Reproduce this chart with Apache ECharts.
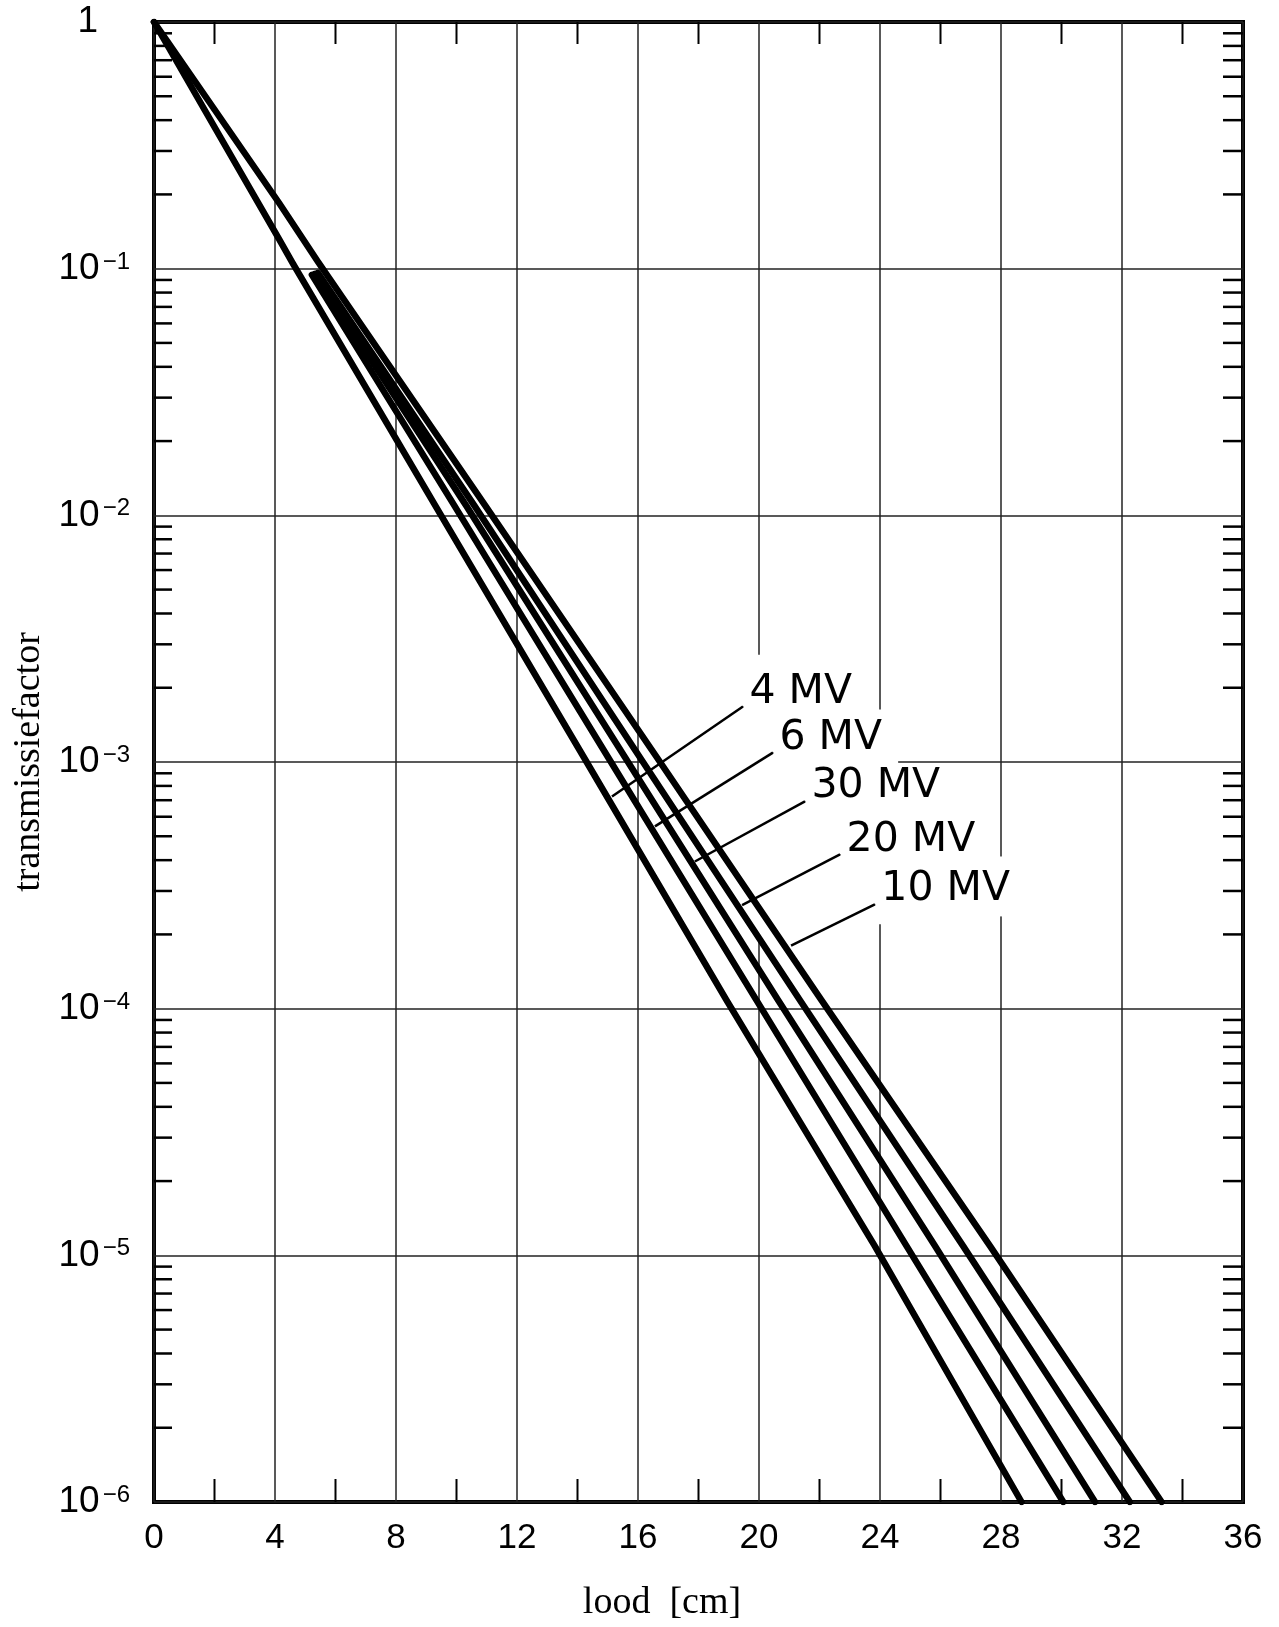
<!DOCTYPE html>
<html><head><meta charset="utf-8">
<script src="https://cdn.jsdelivr.net/npm/echarts@6/dist/echarts.min.js"></script>
<style>html,body{margin:0;padding:0;background:#fff}#c{width:1279px;height:1627px}</style>
</head><body><div id="c"></div>
<script>
// ---- data ----
const xTicks = [0, 4, 8, 12, 16, 20, 24, 28, 32, 36];
const yTicks = [1, 1e-1, 1e-2, 1e-3, 1e-4, 1e-5, 1e-6];
const xMinorTicks = [2, 6, 10, 14, 18, 22, 26, 30, 34];
const yMinorFactors = [2, 3, 4, 5, 6, 7, 8, 9];

const names = ['4 MV', '6 MV', '30 MV', '20 MV', '10 MV'];
const mv4  = [[0, 1], [4.13, 0.132], [4.56, 0.1066], [9.29, 0.011], [14.20, 1.05e-3], [18.93, 1.08e-4], [23.83, 1.09e-5], [28.68, 1e-6]];
const mv6  = [[5.22, 0.0944], [9.92, 0.011], [15.00, 1.05e-3], [19.92, 1.08e-4], [24.88, 1.09e-5], [30.06, 1e-6]];
const mv30 = [[5.32, 0.0953], [10.31, 0.011], [15.56, 1.05e-3], [20.64, 1.08e-4], [25.82, 1.09e-5], [31.11, 1e-6]];
const mv20 = [[5.42, 0.0962], [10.58, 0.011], [16.05, 1.05e-3], [21.36, 1.08e-4], [26.75, 1.09e-5], [32.26, 1e-6]];
const mv10 = [[0, 1], [4.13, 0.185], [5.42, 0.1066], [10.94, 0.011], [16.61, 1.05e-3], [22.07, 1.08e-4], [27.64, 1.09e-5], [33.31, 1e-6]];

// leader lines: [point on curve, outer end where the label sits]
const leader4  = [[15.14, 7.25e-4], [19.47, 1.68e-3]];
const leader6  = [[16.56, 5.48e-4], [20.46, 1.092e-3]];
const leader30 = [[17.88, 3.95e-4], [21.52, 6.93e-4]];
const leader20 = [[19.44, 2.63e-4], [22.68, 4.22e-4]];
const leader10 = [[21.06, 1.80e-4], [23.83, 2.65e-4]];

// ---- chart ----
const curves = [mv4, mv6, mv30, mv20, mv10];
const leaders = [leader4, leader6, leader30, leader20, leader10];
const yMinorTicks = [];
for (let k = -6; k <= -1; k++) yMinorFactors.forEach(m => yMinorTicks.push(m * Math.pow(10, k)));

function yLabel(v) {
  const e = Math.round(Math.log10(v));
  if (e === 0) return '{one|1}';
  return '{b|10}{s|\u2212' + (-e) + '}';
}

const chart = echarts.init(document.getElementById('c'), null, {renderer: 'canvas'});
const series = [];
curves.forEach((d, i) => series.push({
  type: 'line', name: names[i], data: d, symbol: 'none', z: 3,
  lineStyle: {color: '#000', width: 6.5, cap: 'round', join: 'round'}
}));
leaders.forEach((d, i) => series.push({
  type: 'line', name: 'leader ' + names[i], data: d, symbol: 'none', z: 4,
  lineStyle: {color: '#000', width: 2.5}
}));
series.push({
  type: 'scatter', name: 'labels', z: 5, symbolSize: 1,
  itemStyle: {color: '#000', opacity: 1},
  data: leaders.map((d, i) => ({value: d[1], name: names[i]})),
  label: {show: true, formatter: '{b}', position: [5, -14], align: 'left', verticalAlign: 'middle', opacity: 1,
    fontFamily: 'DejaVu Sans', fontSize: 41, color: '#000', backgroundColor: '#fff', padding: [2, 8, 2, 2]}
});
series.push({
  type: 'line', name: 'mask', data: [[0, 1]], symbol: 'none', lineStyle: {width: 0}, silent: true,
  markArea: {silent: true, itemStyle: {color: '#fff'}, label: {show: false}, data: [
    [{coord: [16.1, Math.pow(10, -2.93)]}, {coord: [24.6, Math.pow(10, -3.07)]}],
    [{coord: [19.8, Math.pow(10, -2.565)]}, {coord: [20.2, Math.pow(10, -3.727)]}],
    [{coord: [23.8, Math.pow(10, -2.787)]}, {coord: [24.2, Math.pow(10, -3.658)]}],
    [{coord: [27.8, Math.pow(10, -3.383)]}, {coord: [28.2, Math.pow(10, -3.626)]}]
  ]}
});
series.push({
  type: 'custom', name: 'yMinor', silent: true, clip: false, z: 6,
  data: yMinorTicks.map(v => [0, v]),
  renderItem: (params, api) => {
    const v = api.value(1);
    const pL = api.coord([0, v]);
    const pR = api.coord([36, v]);
    return {type: 'group', children: [
      {type: 'line', shape: {x1: pL[0], y1: pL[1], x2: pL[0] + 18, y2: pL[1]}, style: {stroke: '#000', lineWidth: 2.5}},
      {type: 'line', shape: {x1: pR[0] - 20, y1: pR[1], x2: pR[0], y2: pR[1]}, style: {stroke: '#000', lineWidth: 2.5}}
    ]};
  }
});
series.push({
  type: 'custom', name: 'xMinor', silent: true, clip: false, z: 6,
  data: xMinorTicks.map(x => [x, 1e-6]),
  renderItem: (params, api) => {
    const x = api.value(0);
    const pB = api.coord([x, 1e-6]);
    const pT = api.coord([x, 1]);
    return {type: 'group', children: [
      {type: 'line', shape: {x1: pB[0], y1: pB[1], x2: pB[0], y2: pB[1] - 23}, style: {stroke: '#000', lineWidth: 2}},
      {type: 'line', shape: {x1: pT[0], y1: pT[1], x2: pT[0], y2: pT[1] + 22}, style: {stroke: '#000', lineWidth: 2}}
    ]};
  }
});

chart.setOption({
  animation: false,
  backgroundColor: '#fff',
  grid: {left: 154, top: 22, width: 1089, height: 1481, show: true, borderColor: '#000', borderWidth: 4, backgroundColor: 'rgba(0,0,0,0)'},
  xAxis: {
    type: 'value', min: 0, max: 36, interval: 4,
    axisLine: {show: false}, axisTick: {show: false},
    axisLabel: {margin: 19, fontFamily: 'Liberation Sans', fontSize: 35, color: '#000',
      formatter: v => xTicks.indexOf(v) >= 0 ? String(v) : ''},
    splitLine: {show: true, lineStyle: {color: '#222', width: 1.5}},
    name: 'lood  [cm]', nameLocation: 'middle', nameGap: 82,
    nameTextStyle: {fontFamily: 'Liberation Serif', fontSize: 38, color: '#000', padding: [0, 73, 0, 0]}
  },
  yAxis: {
    type: 'log', logBase: 10, min: yTicks[yTicks.length - 1], max: yTicks[0], splitNumber: 6,
    axisLine: {show: false}, axisTick: {show: false},
    axisLabel: {margin: 24, formatter: yLabel, rich: {
      b: {fontFamily: 'Liberation Sans', fontSize: 37, color: '#000'},
      s: {fontFamily: 'Liberation Sans', fontSize: 24, color: '#000', verticalAlign: 'top', padding: [0, 0, 0, 3]},
      one: {fontFamily: 'Liberation Sans', fontSize: 37, color: '#000', padding: [0, 32, 0, 0]}
    }},
    splitLine: {show: true, lineStyle: {color: '#222', width: 1.5}},
    name: 'transmissiefactor', nameLocation: 'middle', nameGap: 99, nameRotate: 90,
    nameTextStyle: {fontFamily: 'Liberation Serif', fontSize: 38, color: '#000'}
  },
  series: series
});
</script>
</body></html>
